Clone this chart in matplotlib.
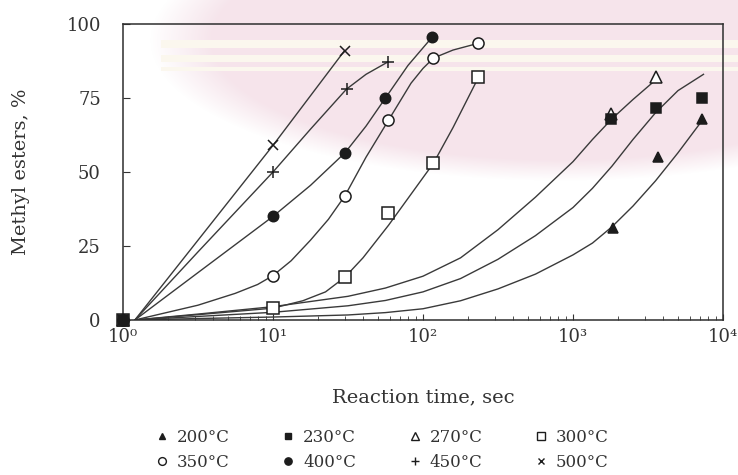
import matplotlib
matplotlib.use('Agg')
import matplotlib.pyplot as plt
import numpy as np
from matplotlib.lines import Line2D
from matplotlib.ticker import FixedLocator, LogLocator, NullFormatter

plt.rcParams['font.family'] = ['DejaVu Serif']

# measured conversion points (reaction time in s, methyl esters in %)
t_200 = [1, 1850, 3700, 7300]
y_200 = [0, 31, 55, 68]
t_230 = [1, 1800, 3600, 7300]
y_230 = [0, 68, 71.5, 75]
t_270 = [1, 1800, 3600]
y_270 = [0, 69.5, 82]
t_300 = [1, 10, 30, 58, 117, 232]
y_300 = [0, 4, 14.5, 36, 53, 82]
t_350 = [1, 10, 30, 58, 117, 232]
y_350 = [0, 15, 42, 67.5, 88.5, 93.5]
t_400 = [1, 10, 30, 56, 115]
y_400 = [0, 35, 56.5, 75, 95.5]
t_450 = [1, 10, 31, 58]
y_450 = [0, 50, 78, 87]
t_500 = [1, 10, 30]
y_500 = [0, 59, 91]

# fitted model curves
ft_200 = [1.2, 3.16, 10, 31.6, 56.2, 100, 178, 316, 562, 1000, 1349,
          1820, 2512, 3548, 5012, 7413]
fy_200 = [0, 0.5, 1.0, 1.7, 2.5, 3.8, 6.5, 10.5, 15.5, 22, 26,
          31.5, 38.5, 47, 56.5, 68]
ft_230 = [1.2, 3.16, 10, 31.6, 56.2, 100, 178, 316, 562, 1000, 1349,
          1820, 2512, 3548, 5012, 7413]
fy_230 = [0, 1.2, 2.6, 4.8, 6.6, 9.5, 14, 20.5, 28.5, 38, 44.5,
          52, 61, 70, 77.5, 83]
ft_270 = [1.2, 3.16, 10, 31.6, 56.2, 100, 178, 316, 562, 1000, 1349,
          1820, 2512, 3631]
fy_270 = [0, 2, 4.5, 8, 10.8, 14.8, 21, 30.5, 41.5, 53.5, 61,
          68, 74.5, 81.5]
ft_300 = [1.2, 3.16, 10, 15.8, 22.4, 30.2, 39.8, 58.9, 83.2, 117.5, 158.5, 234.4]
fy_300 = [0, 1.8, 4, 6.5, 9.5, 14.5, 21, 32, 42.5, 53, 65, 82]
ft_350 = [1.2, 3.16, 5.6, 7.9, 10, 13.2, 17.8, 23.4, 30.2, 41.7, 58.9, 83.2,
          100, 117.5, 158.5, 234.4]
fy_350 = [0, 5, 9, 12, 15, 20, 27, 34, 42, 55, 67.5, 80,
          85, 88.5, 91.2, 93.5]
ft_400 = [1.2, 3.16, 10, 17.8, 30.2, 41.7, 56.2, 79.4, 114.8]
fy_400 = [0, 16, 35, 45.5, 56.5, 65.5, 75, 86, 95.5]
ft_450 = [1.2, 3.16, 10, 17.8, 30.9, 41.7, 57.5]
fy_450 = [0, 23, 50, 64.5, 78, 83, 87]
ft_500 = [1.2, 10, 30]
fy_500 = [0, 59, 91]

labels = ['200°C', '230°C', '270°C', '300°C', '350°C', '400°C', '450°C', '500°C']
xtick_vals = [1, 10, 100, 1000, 10000]
xtick_text = ['10⁰', '10¹', '10²', '10³', '10⁴']
ytick_vals = [0, 25, 50, 75, 100]

ink = '#1c1c1c'
styles = [
    dict(marker='^', mfc=ink, ms=7),
    dict(marker='s', mfc=ink, ms=7),
    dict(marker='^', mfc='white', ms=8),
    dict(marker='s', mfc='white', ms=8),
    dict(marker='o', mfc='white', ms=8),
    dict(marker='o', mfc=ink, ms=7.5),
    dict(marker='+', mfc=ink, ms=9),
    dict(marker='x', mfc=ink, ms=7),
]
points = [(t_200, y_200), (t_230, y_230), (t_270, y_270), (t_300, y_300),
          (t_350, y_350), (t_400, y_400), (t_450, y_450), (t_500, y_500)]
curves = [(ft_200, fy_200), (ft_230, fy_230), (ft_270, fy_270), (ft_300, fy_300),
          (ft_350, fy_350), (ft_400, fy_400), (ft_450, fy_450), (ft_500, fy_500)]

W, H = 738, 475
fig = plt.figure(figsize=(W / 100, H / 100), dpi=100)
fig.patch.set_facecolor('white')

# faint stamp behind the plot: soft pink oval with pale bands
yy, xx = np.mgrid[0:H, 0:W]
r = np.sqrt(((xx - 560) / 380.0) ** 2 + ((yy - 40) / 130.0) ** 2)
alpha = np.clip((1.08 - r) / 0.16, 0, 1) * 0.75
stamp = np.zeros((H, W, 4))
stamp[..., :3] = np.array([0xf3, 0xdc, 0xe5]) / 255.0
stamp[..., 3] = alpha
for y0, h in [(40, 8), (55, 7), (67, 4)]:
    band = (yy >= y0) & (yy < y0 + h) & (xx > 160)
    stamp[band, :3] = np.array([0xfa, 0xf6, 0xea]) / 255.0
    stamp[band, 3] = 0.8
bg = fig.add_axes([0, 0, 1, 1], zorder=-5)
bg.imshow(stamp, extent=(0, W, H, 0), interpolation='bilinear')
bg.set_xlim(0, W)
bg.set_ylim(H, 0)
bg.axis('off')

ax = fig.add_axes([123 / W, 1 - 320 / H, 600 / W, 296 / H])
ax.set_facecolor('none')

for (ft, fy) in curves:
    ax.plot(ft, fy, color='#3a3a3a', lw=1.0, zorder=2)

order = [0, 2, 3, 4, 5, 6, 7, 1]
for i in order:
    t, y = points[i]
    st = styles[i]
    ax.plot(t, y, ls='none', marker=st['marker'], ms=st['ms'], mfc=st['mfc'],
            mec=ink, mew=1.1, clip_on=False, zorder=3)

ax.set_xscale('log')
ax.set_xlim(1, 10000)
ax.set_ylim(0, 100)
ax.xaxis.set_major_locator(FixedLocator(xtick_vals))
ax.set_xticklabels(xtick_text)
ax.xaxis.set_minor_locator(LogLocator(base=10, subs=range(2, 10)))
ax.xaxis.set_minor_formatter(NullFormatter())
ax.set_yticks(ytick_vals)

for s in ax.spines.values():
    s.set_color('#2e2e2e')
    s.set_linewidth(1.1)
ax.tick_params(which='both', direction='in', colors='#333333', top=False, right=False)
ax.tick_params(axis='y', which='major', length=5, pad=16, labelsize=13, labelcolor='#333333')
ax.tick_params(axis='x', which='major', length=4, pad=6, labelsize=13, labelcolor='#333333')
ax.tick_params(axis='x', which='minor', length=3)

ax.set_xlabel('Reaction time, sec', fontsize=14, color='#333333', labelpad=30)
ax.set_ylabel('Methyl esters, %', fontsize=14, color='#333333', labelpad=26)

handles = [Line2D([], [], ls='none', marker=st['marker'], ms=st['ms'] * 0.7,
                  mfc=st['mfc'], mec=ink, mew=1.0) for st in styles]
col_order = [0, 4, 1, 5, 2, 6, 3, 7]
fig.legend([handles[i] for i in col_order], [labels[i] for i in col_order],
           ncol=4, loc='center', bbox_to_anchor=(382 / W, 1 - 450 / H),
           frameon=False, fontsize=12, handlelength=0.8, handletextpad=0.5,
           columnspacing=3.1, labelspacing=0.5, labelcolor='#333333')

fig.savefig('out.png', dpi=100)
